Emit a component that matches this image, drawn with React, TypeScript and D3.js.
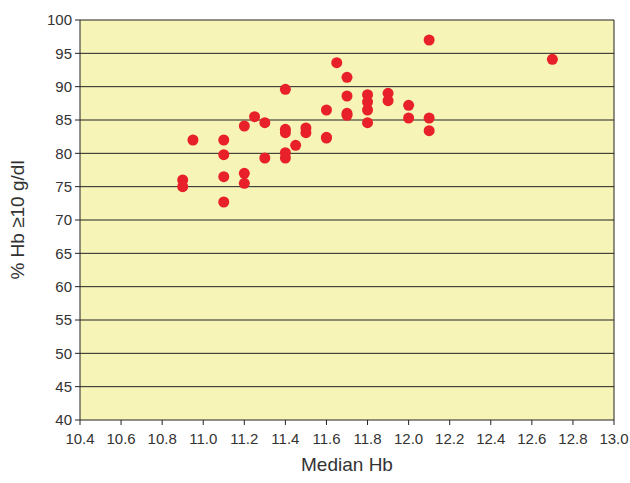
import React from 'react';
import * as d3 from 'd3';

const medianHb = [10.9, 10.9, 10.95, 11.1, 11.1, 11.1, 11.1, 11.2, 11.2, 11.2, 11.25, 11.3, 11.3, 11.4, 11.4, 11.4, 11.4, 11.4, 11.45, 11.5, 11.5, 11.6, 11.6, 11.6, 11.65, 11.7, 11.7, 11.7, 11.7, 11.8, 11.8, 11.8, 11.8, 11.9, 11.9, 12.0, 12.0, 12.1, 12.1, 12.1, 12.7];
const pctHb10 = [76, 75, 82, 82, 79.8, 76.5, 72.7, 84.1, 77, 75.5, 85.5, 84.6, 79.3, 89.6, 83.6, 83.1, 80.1, 79.3, 81.2, 83.8, 83.1, 86.5, 82.4, 82.3, 93.6, 91.4, 88.6, 86, 85.7, 88.8, 87.7, 86.5, 84.6, 89, 87.9, 87.2, 85.3, 97, 85.3, 83.4, 94.1];
const xTicks = d3.range(10.4, 13.0001, 0.2);
const yTicks = d3.range(40, 100.001, 5);

const App: React.FC = () => {
  const margin = { top: 20, right: 16, bottom: 63, left: 80 };
  const width = 630, height = 483;
  const x = d3.scaleLinear().domain([10.4, 13.0]).range([margin.left, width - margin.right]);
  const y = d3.scaleLinear().domain([40, 100]).range([height - margin.bottom, margin.top]);
  const font = '"Liberation Sans", Arial, sans-serif';

  return (
    <svg width={width} height={height} style={{ position: 'absolute', left: 0, top: 0 }} fontFamily={font}>
      <rect x={x(10.4)} y={y(100)} width={x(13) - x(10.4)} height={y(40) - y(100)} fill="#f6f4b6" />
      {yTicks.map(t => (
        <g key={t}>
          <line x1={x(10.4)} x2={x(13)} y1={y(t)} y2={y(t)} stroke="#222" strokeWidth={1} />
          <line x1={x(10.4) - 5} x2={x(10.4)} y1={y(t)} y2={y(t)} stroke="#222" />
          <text x={x(10.4) - 8} y={y(t)} dy="0.35em" textAnchor="end" fontSize={15} fill="#333">{t}</text>
        </g>
      ))}
      {xTicks.map(t => (
        <g key={t}>
          <line x1={x(t)} x2={x(t)} y1={y(40)} y2={y(40) + 5} stroke="#222" />
          <text x={x(t)} y={y(40) + 24} textAnchor="middle" fontSize={15} fill="#333">{t.toFixed(1)}</text>
        </g>
      ))}
      <line x1={x(10.4)} x2={x(10.4)} y1={y(40)} y2={y(100)} stroke="#222" />
      <line x1={x(13)} x2={x(13)} y1={y(40)} y2={y(100)} stroke="#222" />
      {medianHb.map((v, i) => (
        <circle key={i} cx={x(v)} cy={y(pctHb10[i])} r={5.5} fill="#e8202a" />
      ))}
      <text x={(x(10.4) + x(13)) / 2} y={height - 12} textAnchor="middle" fontSize={19} fill="#333">Median Hb</text>
      <text transform={`translate(24,${(y(40) + y(100)) / 2}) rotate(-90)`} textAnchor="middle" fontSize={19} fill="#333">% Hb ≥10 g/dl</text>
    </svg>
  );
};

export default App;
